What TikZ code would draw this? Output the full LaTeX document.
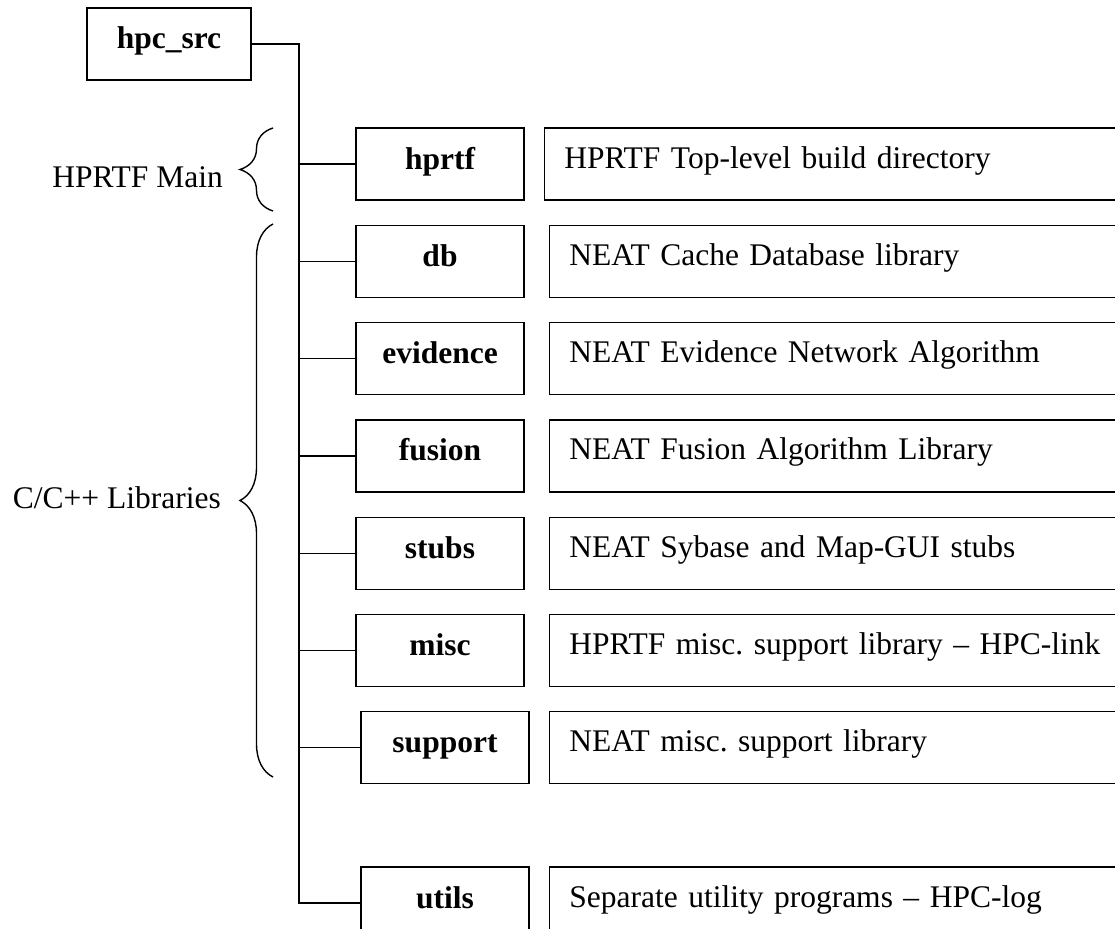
\documentclass[tikz,border=0pt]{standalone}
\usepackage{fontspec}
\setmainfont{Liberation Serif}
\usetikzlibrary{positioning,decorations.pathreplacing}
\frenchspacing

\begin{document}
\begin{tikzpicture}[x=1pt, y=-1pt, node distance=24pt,
  box/.style={draw, line width=1.3pt, font=\fontsize{31.5}{38}\selectfont\bfseries, minimum width=168pt, minimum height=72pt, inner sep=0pt, text height=18pt, text depth=8pt},
  desc/.style={draw, line width=1.3pt, font=\fontsize{31.5}{38}\selectfont, minimum height=72pt, text width=560pt, align=left, inner xsep=20pt, inner ysep=0pt, text height=18pt, text depth=10pt},
  lbl/.style={font=\fontsize{31.5}{38}\selectfont, inner sep=0pt},
  wire/.style={line width=1.3pt},
  brc/.style={decorate, decoration={brace, amplitude=33pt}, line width=1.4pt}]
\useasboundingbox (0,0) rectangle (1115,928);
\clip (0,0) rectangle (1115,928);
\node[box, minimum width=164pt] (src) at (169,44) {hpc\_src};
\node[box] (hprtf) at (440,164) {hprtf};
\node[box, below=of hprtf] (db) {db};
\node[box, below=of db] (evid) {evidence};
\node[box, below=of evid] (fusion) {fusion};
\node[box, below=of fusion] (stubs) {stubs};
\node[box, below=of stubs] (misc) {misc};
\node[box, below=of misc, xshift=5pt] (support) {support};
\node[box, below=82pt of support] (utils) {utils};
\node[desc, right=19pt of hprtf] (hprtfd) {HPRTF Top-level build directory};
\node[desc, right=of db] (dbd) {NEAT Cache Database library};
\node[desc, right=of evid] (evidd) {NEAT Evidence Network Algorithm};
\node[desc, right=of fusion] (fusiond) {NEAT Fusion Algorithm Library};
\node[desc, right=of stubs] (stubsd) {NEAT Sybase and Map-GUI stubs};
\node[desc, right=of misc] (miscd) {HPRTF misc. support library -- HPC-link};
\node[desc, right=19pt of support] (supportd) {NEAT misc. support library};
\node[desc, right=19pt of utils] (utilsd) {Separate utility programs -- HPC-log};
\coordinate (trunk) at (299,0);
\draw[wire] (src.east) -| (trunk |- utils.west) -- (utils.west);
\draw[wire] (trunk |- hprtf.west) -- (hprtf.west); \draw[wire] (trunk |- db.west) -- (db.west);
\draw[wire] (trunk |- evid.west) -- (evid.west); \draw[wire] (trunk |- fusion.west) -- (fusion.west);
\draw[wire] (trunk |- stubs.west) -- (stubs.west); \draw[wire] (trunk |- misc.west) -- (misc.west);
\draw[wire] (trunk |- support.west) -- (support.west);
\coordinate (mtop) at (273,128); \coordinate (mbot) at (273,211);
\coordinate (ltop) at (273,224); \coordinate (lbot) at (273,777);
\draw[brc] (mbot) -- (mtop);
\draw[brc] (lbot) -- (ltop);
\node[lbl, anchor=base east] (mainlbl) at (223,187) {HPRTF Main};
\node[lbl, anchor=base east] (liblbl) at (221,508) {C/C++ Libraries};
\end{tikzpicture}
\end{document}
